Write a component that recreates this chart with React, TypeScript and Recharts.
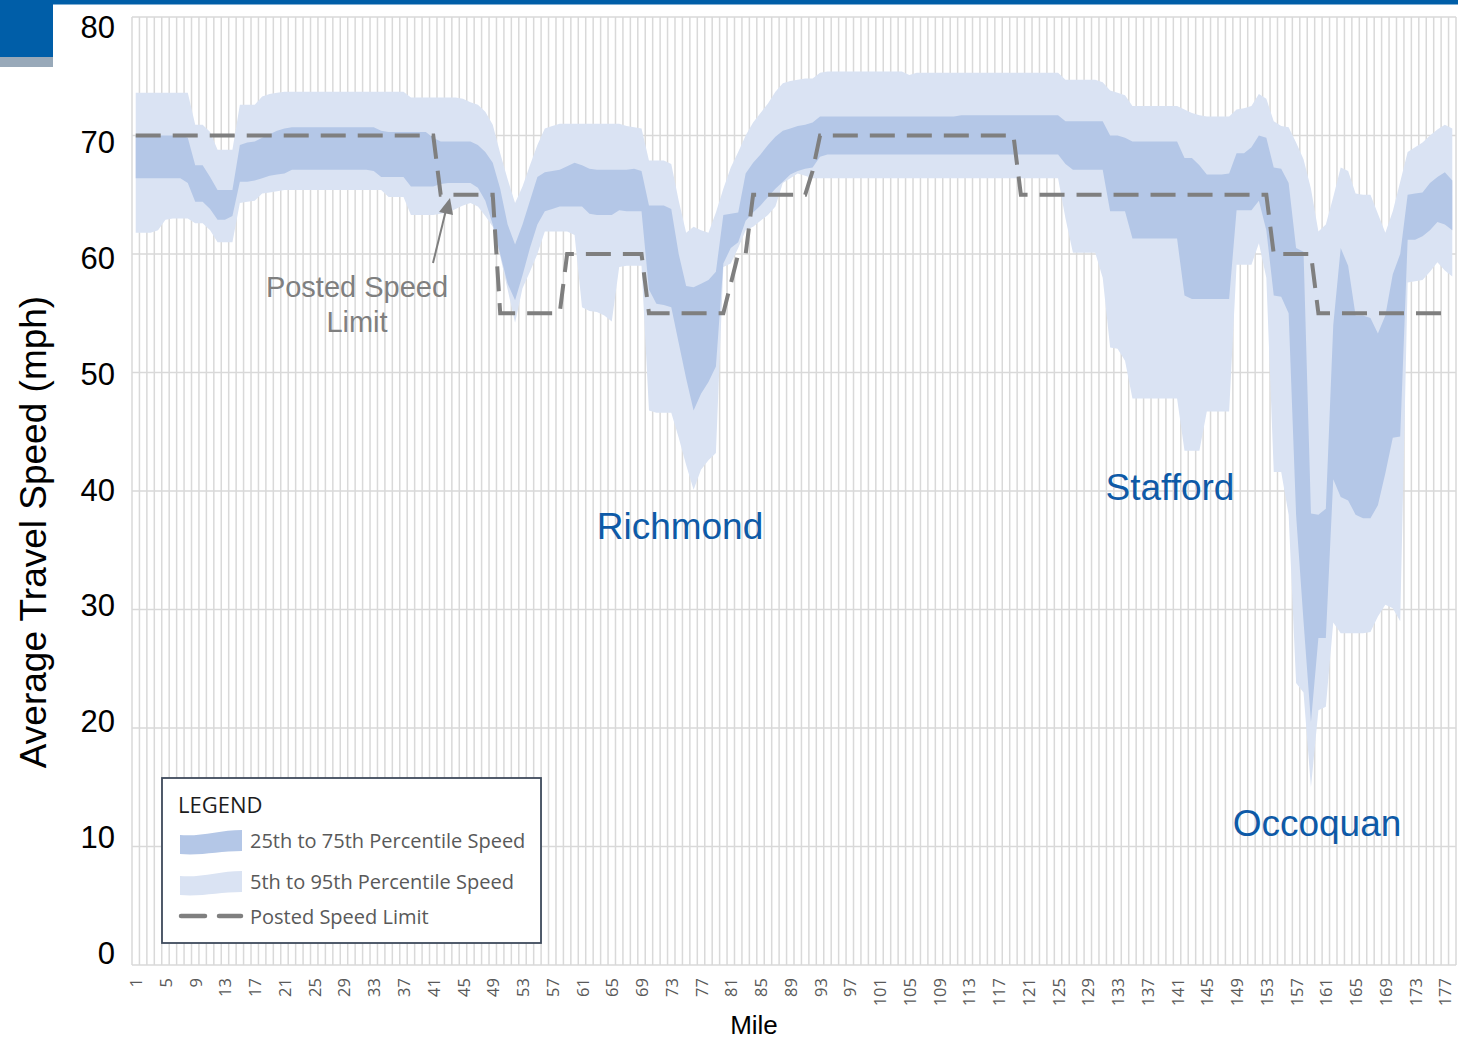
import { Area, CartesianGrid, ComposedChart, Line, XAxis, YAxis } from "recharts";

// Mile markers along the corridor
const miles = Array.from({ length: 178 }, (_, i) => i + 1);

// 95th percentile speed (mph) per mile
const p95 = [
  73.6, 73.6, 73.6, 73.6, 73.6, 73.6, 73.6, 73.6, 70.9, 70.9,
  70.3, 68.8, 68.8, 68.8, 72.6, 72.6, 72.6, 73.3, 73.5, 73.6,
  73.7, 73.7, 73.7, 73.7, 73.7, 73.7, 73.7, 73.7, 73.7, 73.7,
  73.7, 73.7, 73.7, 73.7, 73.7, 73.7, 73.7, 73.2, 73.2, 73.2,
  73.2, 73.2, 73.2, 73.2, 73.1, 72.8, 72.6, 72.0, 70.9, 68.5,
  66.3, 64.3, 65.7, 67.5, 69.2, 70.6, 70.8, 71.0, 71.0, 71.0,
  71.0, 71.0, 71.0, 71.0, 71.0, 71.0, 70.8, 70.7, 70.6, 67.9,
  67.9, 67.9, 67.6, 64.5, 61.8, 62.3, 62.0, 61.8, 63.5, 65.5,
  67.3, 68.6, 70.0, 71.1, 71.9, 72.7, 73.7, 74.4, 74.6, 74.7,
  74.8, 74.8, 75.3, 75.4, 75.4, 75.4, 75.4, 75.4, 75.4, 75.4,
  75.4, 75.4, 75.4, 75.4, 75.1, 75.3, 75.3, 75.3, 75.3, 75.3,
  75.3, 75.3, 75.3, 75.3, 75.3, 75.3, 75.3, 75.3, 75.3, 75.3,
  75.3, 75.3, 75.3, 75.3, 75.3, 74.7, 74.7, 74.7, 74.7, 74.7,
  74.5, 73.8, 73.6, 73.4, 72.5, 72.5, 72.5, 72.5, 72.5, 72.5,
  72.5, 72.2, 71.9, 71.7, 71.6, 71.6, 71.6, 71.6, 72.2, 72.3,
  72.5, 73.5, 73.1, 71.2, 70.8, 70.7, 69.4, 68.0, 65.5, 61.9,
  62.5, 64.8, 67.3, 67.0, 65.1, 65.0, 65.0, 63.4, 61.8, 63.6,
  66.1, 68.6, 69.0, 69.4, 70.0, 70.5, 70.9, 70.6,
];

// 75th percentile speed (mph) per mile
const p75 = [
  70.0, 70.0, 70.0, 70.0, 70.0, 70.0, 70.0, 69.8, 67.5, 67.5,
  66.5, 65.4, 65.4, 65.4, 69.2, 69.4, 69.5, 69.8, 70.1, 70.4,
  70.6, 70.7, 70.7, 70.7, 70.7, 70.7, 70.7, 70.7, 70.7, 70.7,
  70.7, 70.7, 70.7, 70.4, 70.3, 70.3, 70.3, 70.3, 70.3, 70.3,
  69.8, 69.5, 69.5, 69.5, 69.5, 69.5, 69.2, 68.6, 67.7, 65.5,
  62.5, 60.8, 62.5, 64.5, 66.5, 66.9, 67.0, 67.1, 67.4, 67.7,
  67.5, 67.2, 67.1, 67.1, 67.1, 67.1, 67.1, 67.2, 67.0, 64.1,
  64.1, 64.1, 63.8, 60.0, 57.3, 57.2, 57.5, 57.8, 58.5, 63.3,
  63.4, 63.5, 66.8, 67.7, 68.4, 69.2, 69.9, 70.4, 70.6, 70.8,
  70.9, 71.1, 71.6, 71.6, 71.6, 71.6, 71.6, 71.6, 71.6, 71.6,
  71.6, 71.6, 71.6, 71.6, 71.6, 71.6, 71.6, 71.6, 71.6, 71.6,
  71.6, 71.7, 71.7, 71.7, 71.7, 71.7, 71.7, 71.7, 71.7, 71.7,
  71.7, 71.7, 71.7, 71.7, 71.7, 71.2, 71.2, 71.2, 71.2, 71.2,
  71.2, 70.0, 70.0, 69.8, 69.5, 69.5, 69.5, 69.5, 69.5, 69.5,
  69.5, 68.1, 68.1, 67.5, 66.7, 66.7, 66.7, 66.8, 68.5, 68.5,
  69.0, 70.0, 69.8, 67.3, 67.2, 66.0, 60.5, 60.2, 38.1, 38.0,
  38.5, 54.0, 60.5, 59.0, 54.8, 54.8, 54.6, 53.3, 54.8, 58.3,
  60.0, 65.0, 65.1, 65.2, 66.0, 66.5, 66.9, 66.2,
];

// 25th percentile speed (mph) per mile
const p25 = [
  66.4, 66.4, 66.4, 66.4, 66.4, 66.4, 66.4, 66.0, 64.4, 64.4,
  63.8, 62.9, 62.9, 63.2, 66.1, 66.1, 66.2, 66.4, 66.6, 66.7,
  66.8, 67.1, 67.1, 67.1, 67.1, 67.1, 67.1, 67.1, 67.1, 67.1,
  67.1, 67.1, 67.0, 66.5, 66.5, 66.5, 66.5, 65.7, 65.7, 65.7,
  65.7, 65.9, 66.0, 66.0, 66.0, 66.0, 65.6, 64.5, 62.5, 60.0,
  57.5, 56.1, 58.2, 60.5, 62.5, 63.6, 63.8, 64.0, 64.0, 64.0,
  64.0, 63.4, 63.3, 63.3, 63.3, 63.7, 63.6, 63.6, 63.6, 57.0,
  55.8, 55.7, 55.5, 52.5, 49.5, 46.8, 48.2, 49.2, 50.5, 59.2,
  60.5, 61.0, 62.8, 63.5, 64.1, 64.8, 65.5, 66.1, 66.7, 67.0,
  67.2, 67.3, 68.2, 68.4, 68.4, 68.4, 68.4, 68.4, 68.4, 68.4,
  68.4, 68.4, 68.4, 68.4, 68.4, 68.4, 68.4, 68.4, 68.4, 68.4,
  68.4, 68.4, 68.4, 68.4, 68.4, 68.4, 68.4, 68.4, 68.4, 68.4,
  68.4, 68.4, 68.4, 68.4, 68.4, 67.6, 67.1, 67.1, 67.1, 67.1,
  67.1, 63.6, 63.6, 63.6, 61.3, 61.3, 61.3, 61.3, 61.3, 61.3,
  61.3, 56.5, 56.2, 56.2, 56.2, 56.2, 56.2, 56.2, 63.7, 63.7,
  63.7, 64.5, 62.0, 56.5, 56.4, 55.0, 38.0, 29.0, 20.5, 27.6,
  27.6, 41.0, 39.5, 39.2, 38.0, 37.7, 37.7, 38.8, 41.5, 44.5,
  44.6, 61.2, 61.2, 61.5, 62.0, 62.7, 62.5, 62.0,
];

// 5th percentile speed (mph) per mile
const p5 = [
  61.8, 61.8, 61.8, 62.0, 62.9, 63.0, 63.0, 63.0, 62.6, 62.6,
  62.0, 61.0, 61.0, 61.0, 64.3, 64.4, 64.5, 65.1, 65.2, 65.3,
  65.4, 65.4, 65.4, 65.4, 65.4, 65.4, 65.4, 65.4, 65.4, 65.4,
  65.4, 65.4, 65.4, 65.4, 64.8, 64.8, 64.8, 63.3, 63.3, 63.3,
  63.3, 63.4, 63.5, 63.8, 64.1, 64.3, 64.0, 63.2, 62.3, 59.8,
  57.0, 54.2, 57.1, 58.5, 60.0, 61.9, 61.9, 61.9, 61.9, 61.6,
  55.5, 55.2, 55.1, 54.8, 54.3, 58.9, 59.0, 59.0, 59.0, 46.8,
  46.6, 46.6, 46.6, 44.5, 42.2, 40.1, 41.8, 42.6, 43.2, 58.9,
  59.2, 60.5, 62.0, 62.3, 62.8, 63.3, 64.0, 66.0, 66.4, 66.8,
  66.6, 66.4, 66.4, 66.4, 66.4, 66.4, 66.4, 66.4, 66.4, 66.4,
  66.4, 66.4, 66.4, 66.4, 66.4, 66.4, 66.4, 66.4, 66.4, 66.4,
  66.4, 66.4, 66.4, 66.4, 66.4, 66.4, 66.4, 66.4, 66.4, 66.4,
  66.4, 66.4, 66.4, 66.4, 66.4, 63.0, 60.1, 60.1, 60.1, 60.1,
  58.0, 52.1, 52.0, 51.0, 47.8, 47.8, 47.8, 47.8, 47.8, 47.8,
  47.8, 43.4, 43.4, 43.4, 46.7, 46.7, 46.7, 46.7, 59.1, 59.1,
  59.1, 60.9, 58.0, 41.6, 41.6, 38.0, 23.8, 23.0, 15.0, 21.5,
  21.8, 28.9, 28.0, 28.0, 28.0, 28.0, 28.1, 29.4, 30.4, 30.1,
  29.0, 57.6, 57.7, 57.8, 58.5, 59.3, 58.6, 58.1,
];

// Posted speed limit (mph) per mile
const speedLimit = [
  70, 70, 70, 70, 70, 70, 70, 70, 70, 70,
  70, 70, 70, 70, 70, 70, 70, 70, 70, 70,
  70, 70, 70, 70, 70, 70, 70, 70, 70, 70,
  70, 70, 70, 70, 70, 70, 70, 70, 70, 70,
  70, 65, 65, 65, 65, 65, 65, 65, 65, 55,
  55, 55, 55, 55, 55, 55, 55, 55, 60, 60,
  60, 60, 60, 60, 60, 60, 60, 60, 60, 55,
  55, 55, 55, 55, 55, 55, 55, 55, 55, 55,
  57.5, 60, 60, 65, 65, 65, 65, 65, 65, 65,
  65, 67, 70, 70, 70, 70, 70, 70, 70, 70,
  70, 70, 70, 70, 70, 70, 70, 70, 70, 70,
  70, 70, 70, 70, 70, 70, 70, 70, 70, 65,
  65, 65, 65, 65, 65, 65, 65, 65, 65, 65,
  65, 65, 65, 65, 65, 65, 65, 65, 65, 65,
  65, 65, 65, 65, 65, 65, 65, 65, 65, 65,
  65, 65, 65, 60, 60, 60, 60, 60, 60, 55,
  55, 55, 55, 55, 55, 55, 55, 55, 55, 55,
  55, 55, 55, 55, 55, 55, 55, 55,
];

const yTicks = [0, 10, 20, 30, 40, 50, 60, 70, 80];

const data = miles.map((mile, i) => ({
  mile,
  outer: [p5[i], p95[i]],
  inner: [p25[i], p75[i]],
  limit: speedLimit[i],
}));

const LIGHT = "#dae3f3";
const DARK = "#b4c7e7";
const GREY = "#7f7f7f";
const BLUE = "#0e5aa7";
const ARIAL = "'Liberation Sans', Arial, sans-serif";
const SANS = "'Open Sans', 'Noto Sans', sans-serif";

function XTick({ x, y, payload }: any) {
  return (
    <text
      transform={`translate(${x},${y}) rotate(-90)`}
      textAnchor="end"
      dominantBaseline="central"
      fontFamily={SANS}
      fontSize={16.5}
      fill="#595959"
    >
      {payload.value}
    </text>
  );
}

// labels in the source sit slightly off the gridlines, drifting from top to bottom
function YTick({ x, y, payload }: any) {
  const dy = 10 - (80 - payload.value) * 0.275;
  return (
    <text
      x={x}
      y={y + dy}
      textAnchor="end"
      dominantBaseline="central"
      fontFamily={ARIAL}
      fontSize={31}
      fill="#000"
    >
      {payload.value}
    </text>
  );
}

function Overlay() {
  return (
    <svg
      width={1458}
      height={1039}
      style={{ position: "absolute", left: 0, top: 0, pointerEvents: "none" }}
    >
      <rect x={0} y={0} width={1458} height={4.5} fill="#005ea8" />
      <rect x={0} y={0} width={53} height={57} fill="#005ea8" />
      <rect x={0} y={57} width={53} height={10} fill="#98a9b9" />

      <text
        transform="translate(46,532) rotate(-90)"
        textAnchor="middle"
        fontFamily={ARIAL}
        fontSize={37}
        fill="#000"
      >
        Average Travel Speed (mph)
      </text>
      <text x={754} y={1034} textAnchor="middle" fontFamily={ARIAL} fontSize={26} fill="#000">
        Mile
      </text>

      <text x={680} y={539} textAnchor="middle" fontFamily={ARIAL} fontSize={37} fill={BLUE}>
        Richmond
      </text>
      <text x={1170} y={500} textAnchor="middle" fontFamily={ARIAL} fontSize={37} fill={BLUE}>
        Stafford
      </text>
      <text x={1317} y={836} textAnchor="middle" fontFamily={ARIAL} fontSize={37} fill={BLUE}>
        Occoquan
      </text>

      <text x={357} y={297} textAnchor="middle" fontFamily={ARIAL} fontSize={29} fill={GREY}>
        Posted Speed
      </text>
      <text x={357} y={332} textAnchor="middle" fontFamily={ARIAL} fontSize={29} fill={GREY}>
        Limit
      </text>
      <line x1={433} y1={263} x2={446} y2={210} stroke={GREY} strokeWidth={2} />
      <polygon points="450,198 439,212 453,215" fill={GREY} />

      {/* legend */}
      <rect x={162} y={778} width={379} height={165} fill="#fff" stroke="#3f4b5c" strokeWidth={1.8} />
      <text x={178} y={813} fontFamily={SANS} fontSize={22} fill="#1c1c1c">
        LEGEND
      </text>
      <path d="M180,835 C200,837 220,830 242,830 L242,851 C220,851 200,856 180,854 Z" fill={DARK} />
      <path d="M180,876 C200,878 220,871 242,871 L242,892 C220,892 200,897 180,895 Z" fill={LIGHT} />
      <line x1={181} y1={916} x2={205} y2={916} stroke={GREY} strokeWidth={4.5} strokeLinecap="round" />
      <line x1={219} y1={916} x2={241} y2={916} stroke={GREY} strokeWidth={4.5} strokeLinecap="round" />
      <text x={250} y={848} fontFamily={SANS} fontSize={20} fill="#595959">
        25th to 75th Percentile Speed
      </text>
      <text x={250} y={889} fontFamily={SANS} fontSize={20} fill="#595959">
        5th to 95th Percentile Speed
      </text>
      <text x={250} y={924} fontFamily={SANS} fontSize={20} fill="#595959">
        Posted Speed Limit
      </text>
    </svg>
  );
}

export default function App() {
  return (
    <div style={{ position: "absolute", left: 0, top: 0, width: 1458, height: 1039, background: "#fff" }}>
      <ComposedChart
        width={1458}
        height={1039}
        data={data}
        margin={{ top: 17, right: 2, bottom: 4, left: 8 }}
      >
        <CartesianGrid
          stroke="#d9d9d9"
          strokeWidth={1.5}
          verticalCoordinatesGenerator={({ offset }: any) =>
            Array.from({ length: miles.length + 1 }, (_, i) => offset.left + (i * offset.width) / miles.length)
          }
        />
        <XAxis
          dataKey="mile"
          interval={3}
          height={70}
          tickLine={false}
          axisLine={false}
          tickSize={0}
          tickMargin={13}
          padding={{ left: 3.72, right: 3.72 }}
          tick={<XTick />}
        />
        <YAxis
          type="number"
          domain={[0, 80]}
          ticks={yTicks}
          interval={0}
          width={124}
          tickLine={false}
          axisLine={false}
          tickSize={0}
          tickMargin={17}
          tick={<YTick />}
        />
        <Area
          type="linear"
          dataKey="outer"
          stroke="none"
          fill={LIGHT}
          fillOpacity={1}
          isAnimationActive={false}
          activeDot={false}
        />
        <Area
          type="linear"
          dataKey="inner"
          stroke="none"
          fill={DARK}
          fillOpacity={1}
          isAnimationActive={false}
          activeDot={false}
        />
        <Line
          type="linear"
          dataKey="limit"
          stroke={GREY}
          strokeWidth={4}
          strokeDasharray="25 12"
          dot={false}
          activeDot={false}
          isAnimationActive={false}
        />
      </ComposedChart>
      <Overlay />
    </div>
  );
}
